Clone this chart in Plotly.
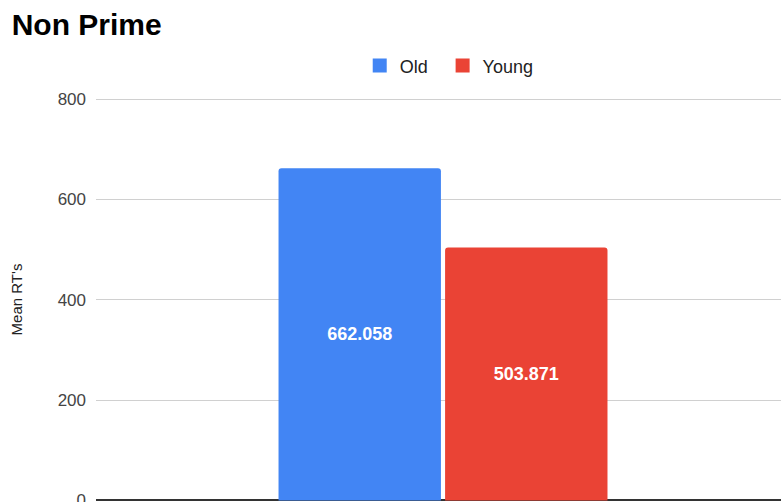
import plotly.graph_objects as go

# Mean reaction times for the non-prime condition
categories = [""]
groups = ["Old", "Young"]
mean_rt = [662.058, 503.871]
colors = ["#4285F4", "#EA4335"]
y_ticks = [0, 200, 400, 600, 800]

FONT = "Liberation Sans, Arial"
legend_ids = ["legend", "legend2"]

fig = go.Figure()
for name, v, col, lg in zip(groups, mean_rt, colors, legend_ids):
    fig.add_trace(go.Bar(
        x=categories, y=[v], name=name, showlegend=False,
        marker=dict(color=col, line=dict(width=0)),
        text=[f"{v:.3f}"],
        textposition="inside", insidetextanchor="middle",
        textfont=dict(family=FONT, size=18, color="white", weight="bold"),
    ))
    # square legend swatch
    fig.add_trace(go.Scatter(
        x=[None], y=[None], mode="markers", name=name, legend=lg,
        marker=dict(symbol="square", size=14, color=col),
    ))

legend_style = dict(orientation="h", xanchor="left", y=1.077, yanchor="middle",
                    font=dict(family=FONT, size=18, color="#222222"),
                    itemwidth=30, bgcolor="rgba(0,0,0,0)")

fig.update_layout(
    width=781, height=502,
    margin=dict(l=96, r=0, t=97, b=0, autoexpand=False),
    paper_bgcolor="white", plot_bgcolor="white",
    barmode="group", bargap=0.52, bargroupgap=0.025, barcornerradius=3,
    title=dict(text="<b>Non Prime</b>", x=0.015, xanchor="left", y=0.952, yanchor="middle",
               font=dict(family=FONT, size=30, color="#000000")),
    legend=dict(x=0.385, **legend_style),
    legend2=dict(x=0.506, **legend_style),
    showlegend=True,
)
fig.update_xaxes(type="category", range=[-0.5, 0.487], showticklabels=False,
                 showgrid=False, showline=False, zeroline=False, automargin=False)
fig.update_yaxes(range=[-3, 804], tickvals=y_ticks, showgrid=True, gridcolor="#d0d0d0", gridwidth=1,
                 zeroline=True, zerolinecolor="#333333", zerolinewidth=1.5, automargin=False,
                 showline=False, ticks="", ticklabelstandoff=9, ticklabeloverflow="allow",
                 tickfont=dict(family=FONT, size=17, color="#444444"),
                 title=dict(text="Mean RT's", standoff=31,
                            font=dict(family=FONT, size=15, color="#222222")))

fig.write_html("out.html")
